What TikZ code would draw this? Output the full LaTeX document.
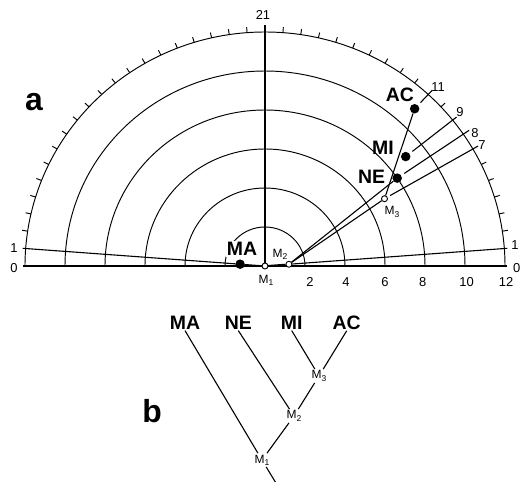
\documentclass[tikz,border=0pt]{standalone}
\usepackage{fontspec}
\setmainfont{Liberation Sans}
\usetikzlibrary{backgrounds}
\newcommand{\Msub}[1]{M\kern0.2pt\raisebox{-0.35ex}{\fontsize{8.5}{8.5}\selectfont #1}}
\begin{document}
\begin{tikzpicture}[x=20bp,y=19.5bp,
  thinline/.style={line width=0.95bp},
  ray/.style={line width=1.1bp},
  blackdot/.style={circle,fill=black,inner sep=0pt,minimum size=9.5bp},
  opendot/.style={circle,draw=black,fill=white,line width=0.9bp,inner sep=0pt,minimum size=6bp},
  biglabel/.style={font=\fontsize{19.5}{19.5}\selectfont\bfseries,inner sep=1bp},
  num/.style={font=\fontsize{13}{13}\selectfont,inner sep=0pt},
  mlabel/.style={font=\fontsize{12}{12}\selectfont,inner sep=1.5bp},
  panel/.style={font=\fontsize{32}{32}\selectfont\bfseries,anchor=base,inner sep=0pt},
]
\useasboundingbox (-13.25,-11.026) rectangle (12.8,13.641);

% concentric arcs
\foreach \r in {2,4,6,8,10,12}
  \draw[thinline] (\r,0) arc[start angle=0,end angle=180,x radius=\r*20bp,y radius=\r*19.5bp];

% outer scale ticks
\foreach \k in {2,...,20}{
  \pgfmathsetmacro{\t}{180-\k*90/21}
  \draw[thinline] ({12*cos(\t)},{12*sin(\t)}) -- ({12.28*cos(\t)},{12.28*sin(\t)});
}
\foreach \k in {2,3,4,5,6,10,12,13,14,15,16,17,18,19,20}{
  \pgfmathsetmacro{\t}{\k*90/21}
  \draw[thinline] ({12*cos(\t)},{12*sin(\t)}) -- ({12.28*cos(\t)},{12.28*sin(\t)});
}

% baseline
\coordinate (B0) at (-12.12,0);
\coordinate (B1) at (12.1,0);
\draw[ray] (B0) -- (B1);

% free ends of rays
\coordinate (V21) at (0,12.36);
\coordinate (L1) at ({12.15*cos(180-90/21)},{12.15*sin(180-90/21)});
\coordinate (R1) at ({12.15*cos(90/21)},{12.15*sin(90/21)});
\coordinate (T7) at ({12.3*cos(30)},{12.3*sin(30)});
\coordinate (T8) at ({12.35*cos(8*90/21)},{12.35*sin(8*90/21)});
\coordinate (T9) at ({12.25*cos(9*90/21)},{12.25*sin(9*90/21)});
\coordinate (T11) at ({12.3*cos(11*90/21)},{12.3*sin(11*90/21)});

% points of panel a
\node[opendot] (M1) at (0,0) {};
\node[opendot] (M2) at ({1.2*cos(90/21)},{1.2*sin(90/21)}) {};
\node[opendot] (M3) at ({6.9*cos(30)},{6.9*sin(30)}) {};
\node[blackdot] (MA) at ({1.25*cos(180-90/21)},{1.25*sin(180-90/21)}) {};
\node[blackdot] (NE) at ({8*cos(8*90/21)},{8*sin(8*90/21)}) {};
\node[blackdot] (MI) at ({9*cos(9*90/21)},{9*sin(9*90/21)}) {};
\node[blackdot] (AC) at ({11*cos(11*90/21)},{11*sin(11*90/21)}) {};

% labels of panel a
\node[biglabel,fill=white] (lMA) at (-1.15,0.87) {MA};
\node[biglabel] (lNE) at (5.335,4.58) {NE};
\node[biglabel] (lMI) at (5.9,6.05) {MI};
\node[biglabel] (lAC) at (6.75,8.77) {AC};
\node[mlabel] (lM2) at (0.75,0.615) {\Msub{2}};
\node[mlabel] (lM3) at (6.35,2.77) {\Msub{3}};
\node[mlabel] (lM1) at (0.05,-0.72) {\Msub{1}};

\node[num] (n21) at (-0.1,12.87) {21};
\node[num] (nL1) at (-12.55,0.92) {1};
\node[num] (nL0) at (-12.55,-0.1) {0};
\node[num] (nR1) at (12.5,1.08) {1};
\node[num] (nR0) at (12.58,-0.1) {0};
\node[num] (n7) at (10.85,6.2) {7};
\node[num] (n8) at (10.5,6.82) {8};
\node[num] (n9) at (9.75,7.91) {9};
\node[num] (n11) at (8.65,9.18) {11};
\node[num] (x2) at (2.25,-0.805) {2};
\node[num] (x4) at (4.05,-0.805) {4};
\node[num] (x6) at (6.0,-0.805) {6};
\node[num] (x8) at (7.88,-0.805) {8};
\node[num] (x10) at (10.08,-0.805) {10};
\node[num] (x12) at (12.05,-0.805) {12};

\node[panel] (pa) at (-11.55,8.0) {a};
\node[panel] (pb) at (-5.65,-8.05) {b};

% panel b
\node[biglabel] (tMA) at (-4,-2.908) {MA};
\node[biglabel] (tNE) at (-1.335,-2.908) {NE};
\node[biglabel] (tMI) at (1.335,-2.908) {MI};
\node[biglabel] (tAC) at (4.085,-2.908) {AC};
\node[mlabel] (tM3) at (2.7,-5.64) {\Msub{3}};
\node[mlabel] (tM2) at (1.45,-7.69) {\Msub{2}};
\node[mlabel] (tM1) at (-0.15,-9.95) {\Msub{1}};
\coordinate (tEnd) at (0.62,-11.25);

\begin{scope}[on background layer]
  \draw[ray] (M1) -- (V21);
  \draw[ray] (M1) -- (MA) -- (L1);
  \draw[line width=1.6bp] (M1) -- (M2);
  \draw[ray] (M2) -- (R1);
  \draw[ray] (M2) -- (NE);
  \draw[ray] (M2) -- (M3);
  \draw[ray] (M3) -- (AC);
  \draw[ray,shorten <=3bp] (M3) -- (T7);
  \draw[ray,shorten <=3.5bp] (NE) -- (T8);
  \draw[ray,shorten <=3.5bp] (MI) -- (T9);
  \draw[ray,shorten <=3.5bp] (AC) -- (T11);

  \draw[ray] (tMA.south) -- (tM1);
  \draw[ray] (tNE.south) -- (tM2);
  \draw[ray] (tMI.south) -- (tM3);
  \draw[ray] (tAC.south) -- (tM3);
  \draw[ray] (tM3) -- (tM2);
  \draw[ray] (tM2) -- (tM1);
  \draw[ray] (tM1) -- (tEnd);
\end{scope}
\end{tikzpicture}
\end{document}
